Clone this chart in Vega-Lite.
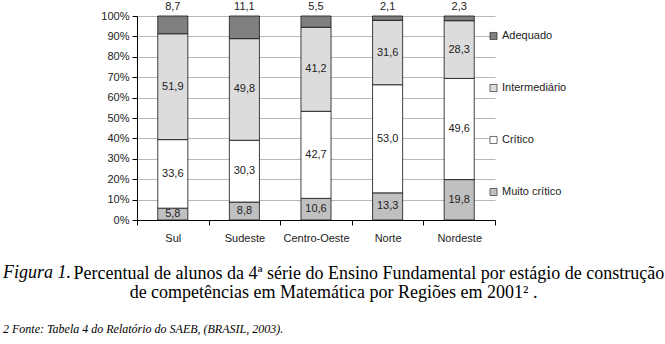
{
  "$schema": "https://vega.github.io/schema/vega-lite/v6.json",
  "autosize": "none",
  "width": 358,
  "height": 204,
  "padding": {"left": 137, "top": 16, "right": 170, "bottom": 124},
  "background": "white",
  "title": {
    "text": "Figura 1.",
    "subtitle": "2 Fonte: Tabela 4 do Relatório do SAEB, (BRASIL, 2003).",
    "orient": "top",
    "anchor": "start",
    "frame": "group",
    "dx": -134,
    "dy": 338,
    "font": "Liberation Serif",
    "fontSize": 18,
    "fontStyle": "italic",
    "fontWeight": "normal",
    "color": "black",
    "subtitleFont": "Liberation Serif",
    "subtitleFontSize": 12,
    "subtitleFontStyle": "italic",
    "subtitleColor": "black",
    "subtitlePadding": 42
  },
  "config": {
    "locale": {"number": {"decimal": ",", "thousands": ".", "grouping": [3], "currency": ["R$", ""]}},
    "view": {"stroke": null},
    "axis": {"labelFont": "Liberation Sans", "labelFontSize": 11, "labelColor": "#222", "domainColor": "black", "tickColor": "black", "tickSize": 5, "labelOverlap": false}
  },
  "data": {"values": [
    {"regiao": "Sul", "categoria": "Muito crítico", "ordem": 1, "valor": 5.8},
    {"regiao": "Sul", "categoria": "Crítico", "ordem": 2, "valor": 33.6},
    {"regiao": "Sul", "categoria": "Intermediário", "ordem": 3, "valor": 51.9},
    {"regiao": "Sul", "categoria": "Adequado", "ordem": 4, "valor": 8.7},
    {"regiao": "Sudeste", "categoria": "Muito crítico", "ordem": 1, "valor": 8.8},
    {"regiao": "Sudeste", "categoria": "Crítico", "ordem": 2, "valor": 30.3},
    {"regiao": "Sudeste", "categoria": "Intermediário", "ordem": 3, "valor": 49.8},
    {"regiao": "Sudeste", "categoria": "Adequado", "ordem": 4, "valor": 11.1},
    {"regiao": "Centro-Oeste", "categoria": "Muito crítico", "ordem": 1, "valor": 10.6},
    {"regiao": "Centro-Oeste", "categoria": "Crítico", "ordem": 2, "valor": 42.7},
    {"regiao": "Centro-Oeste", "categoria": "Intermediário", "ordem": 3, "valor": 41.2},
    {"regiao": "Centro-Oeste", "categoria": "Adequado", "ordem": 4, "valor": 5.5},
    {"regiao": "Norte", "categoria": "Muito crítico", "ordem": 1, "valor": 13.3},
    {"regiao": "Norte", "categoria": "Crítico", "ordem": 2, "valor": 53.0},
    {"regiao": "Norte", "categoria": "Intermediário", "ordem": 3, "valor": 31.6},
    {"regiao": "Norte", "categoria": "Adequado", "ordem": 4, "valor": 2.1},
    {"regiao": "Nordeste", "categoria": "Muito crítico", "ordem": 1, "valor": 19.8},
    {"regiao": "Nordeste", "categoria": "Crítico", "ordem": 2, "valor": 49.6},
    {"regiao": "Nordeste", "categoria": "Intermediário", "ordem": 3, "valor": 28.3},
    {"regiao": "Nordeste", "categoria": "Adequado", "ordem": 4, "valor": 2.3}
  ]},
  "encoding": {
    "x": {
      "field": "regiao", "type": "nominal",
      "sort": ["Sul", "Sudeste", "Centro-Oeste", "Norte", "Nordeste"],
      "scale": {"paddingInner": 0, "paddingOuter": 0},
      "axis": {
        "labelAngle": 0, "tickBand": "extent", "tickExtra": true, "grid": false, "labelPadding": 7,
        "title": "Percentual de alunos da 4ª série do Ensino Fundamental por estágio de construção",
        "titleFont": "Liberation Serif", "titleFontSize": 18, "titleFontWeight": "normal", "titleColor": "black",
        "titleAlign": "left", "titleBaseline": "alphabetic", "titleX": -64, "titleY": 58
      }
    }
  },
  "layer": [
    {
      "mark": {"type": "bar", "width": {"band": 0.42}, "stroke": "#111", "strokeWidth": 0.8},
      "encoding": {
        "y": {
          "field": "valor", "type": "quantitative", "stack": "zero",
          "scale": {"domain": [0, 100]},
          "axis": {
            "values": [0, 10, 20, 30, 40, 50, 60, 70, 80, 90, 100], "tickCount": 12,
            "labelExpr": "datum.value + '%'", "grid": true, "gridColor": "#b8b8b8", "labelPadding": 3,
            "title": "de competências em Matemática por Regiões em 2001² .",
            "titleFont": "Liberation Serif", "titleFontSize": 18, "titleFontWeight": "normal", "titleColor": "black",
            "titleAngle": 0, "titleAlign": "center", "titleBaseline": "alphabetic", "titleX": 196, "titleY": 281
          }
        },
        "color": {
          "field": "categoria", "type": "nominal",
          "scale": {"domain": ["Adequado", "Intermediário", "Crítico", "Muito crítico"], "range": ["#808080", "#dcdcdc", "#ffffff", "#c0c0c0"]},
          "legend": {
            "orient": "none", "legendX": 351, "legendY": 14, "title": null,
            "symbolType": "square", "symbolSize": 50, "symbolStrokeColor": "#111", "symbolStrokeWidth": 0.6,
            "labelFont": "Liberation Sans", "labelFontSize": 11, "labelColor": "#222", "labelOffset": 3,
            "rowPadding": 40, "clipHeight": 12
          }
        },
        "order": {"field": "ordem", "type": "quantitative"}
      }
    },
    {
      "transform": [{"filter": "datum.categoria != 'Adequado'"}],
      "mark": {"type": "text", "font": "Liberation Sans", "fontSize": 11, "color": "#222", "baseline": "middle"},
      "encoding": {
        "y": {
          "field": "valor", "type": "quantitative", "stack": "zero", "bandPosition": 0.5,
          "axis": {
            "values": [0, 10, 20, 30, 40, 50, 60, 70, 80, 90, 100], "tickCount": 12,
            "labelExpr": "datum.value + '%'", "grid": true, "gridColor": "#b8b8b8", "labelPadding": 3,
            "title": "de competências em Matemática por Regiões em 2001² .",
            "titleFont": "Liberation Serif", "titleFontSize": 18, "titleFontWeight": "normal", "titleColor": "black",
            "titleAngle": 0, "titleAlign": "center", "titleBaseline": "alphabetic", "titleX": 196, "titleY": 281
          }
        },
        "order": {"field": "ordem", "type": "quantitative"},
        "text": {"field": "valor", "type": "quantitative", "format": ".1f"}
      }
    },
    {
      "transform": [{"filter": "datum.categoria == 'Adequado'"}],
      "mark": {"type": "text", "font": "Liberation Sans", "fontSize": 11, "color": "#222", "baseline": "middle", "dy": -9},
      "encoding": {
        "y": {
          "datum": 100, "type": "quantitative",
          "axis": {
            "values": [0, 10, 20, 30, 40, 50, 60, 70, 80, 90, 100], "tickCount": 12,
            "labelExpr": "datum.value + '%'", "grid": true, "gridColor": "#b8b8b8", "labelPadding": 3,
            "title": "de competências em Matemática por Regiões em 2001² .",
            "titleFont": "Liberation Serif", "titleFontSize": 18, "titleFontWeight": "normal", "titleColor": "black",
            "titleAngle": 0, "titleAlign": "center", "titleBaseline": "alphabetic", "titleX": 196, "titleY": 281
          }
        },
        "text": {"field": "valor", "type": "quantitative", "format": ".1f"}
      }
    }
  ]
}
